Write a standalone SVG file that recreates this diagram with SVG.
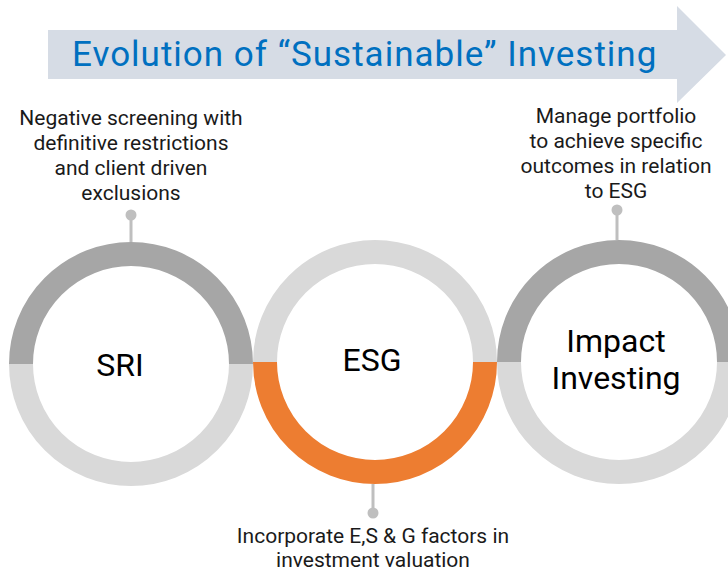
<svg xmlns="http://www.w3.org/2000/svg" width="728" height="573" viewBox="0 0 728 573">
  <style>
    .title { font-family: Roboto, "Liberation Sans", sans-serif; font-size: 35px; letter-spacing: 1px; fill: #0070C0; }
    .note { font-family: Roboto, "Liberation Sans", sans-serif; font-size: 21px; fill: #1A1A1A; text-anchor: middle; }
    .label { font-family: Roboto, "Liberation Sans", sans-serif; font-size: 32px; fill: #000000; text-anchor: middle; }
    .ring { fill: none; stroke-width: 24; }
    .dark { stroke: #A6A6A6; }
    .light { stroke: #D9D9D9; }
    .orange { stroke: #ED7D31; }
    .pin { stroke: #BFBFBF; stroke-width: 3; }
    .dot { fill: #BFBFBF; }
  </style>

  <rect width="728" height="573" fill="#FFFFFF"/>

  <!-- title banner arrow -->
  <g id="title">
    <polygon points="48,30 677,30 677,6 726,55 677,103 677,79 48,79" fill="#D6DCE5"/>
    <text class="title" x="72" y="66">Evolution of “Sustainable” Investing</text>
  </g>

  <!-- pins linking notes to rings -->
  <g id="connectors">
    <line class="pin" x1="131" y1="215" x2="131" y2="242"/>
    <circle class="dot" cx="131" cy="215" r="5.5"/>
    <line class="pin" x1="617" y1="210" x2="617" y2="240"/>
    <circle class="dot" cx="617" cy="210" r="5.5"/>
    <line class="pin" x1="373" y1="484" x2="373" y2="513"/>
    <circle class="dot" cx="373" cy="513" r="5.5"/>
  </g>

  <!-- SRI -->
  <g id="sri">
    <path class="ring dark" d="M21,364 A110,110 0 0 1 241,364"/>
    <path class="ring light" d="M21,364 A110,110 0 0 0 241,364"/>
    <text class="label" x="120" y="376">SRI</text>
    <text class="note" x="131" y="125">Negative screening with</text>
    <text class="note" x="131" y="150">definitive restrictions</text>
    <text class="note" x="131" y="175">and client driven</text>
    <text class="note" x="131" y="200">exclusions</text>
  </g>

  <!-- ESG -->
  <g id="esg">
    <path class="ring light" d="M265,362 A110,110 0 0 1 485,362"/>
    <path class="ring orange" d="M265,362 A110,110 0 0 0 485,362"/>
    <text class="label" x="372" y="371">ESG</text>
    <text class="note" x="373" y="543">Incorporate E,S &amp; G factors in</text>
    <text class="note" x="373" y="567">investment valuation</text>
  </g>

  <!-- Impact Investing -->
  <g id="impact">
    <path class="ring dark" d="M509,362 A110,110 0 0 1 729,362"/>
    <path class="ring light" d="M509,362 A110,110 0 0 0 729,362"/>
    <text class="label" x="616" y="352">Impact</text>
    <text class="label" x="616" y="389">Investing</text>
    <text class="note" x="616" y="123">Manage portfolio</text>
    <text class="note" x="616" y="148">to achieve specific</text>
    <text class="note" x="616" y="173">outcomes in relation</text>
    <text class="note" x="616" y="198">to ESG</text>
  </g>
</svg>
